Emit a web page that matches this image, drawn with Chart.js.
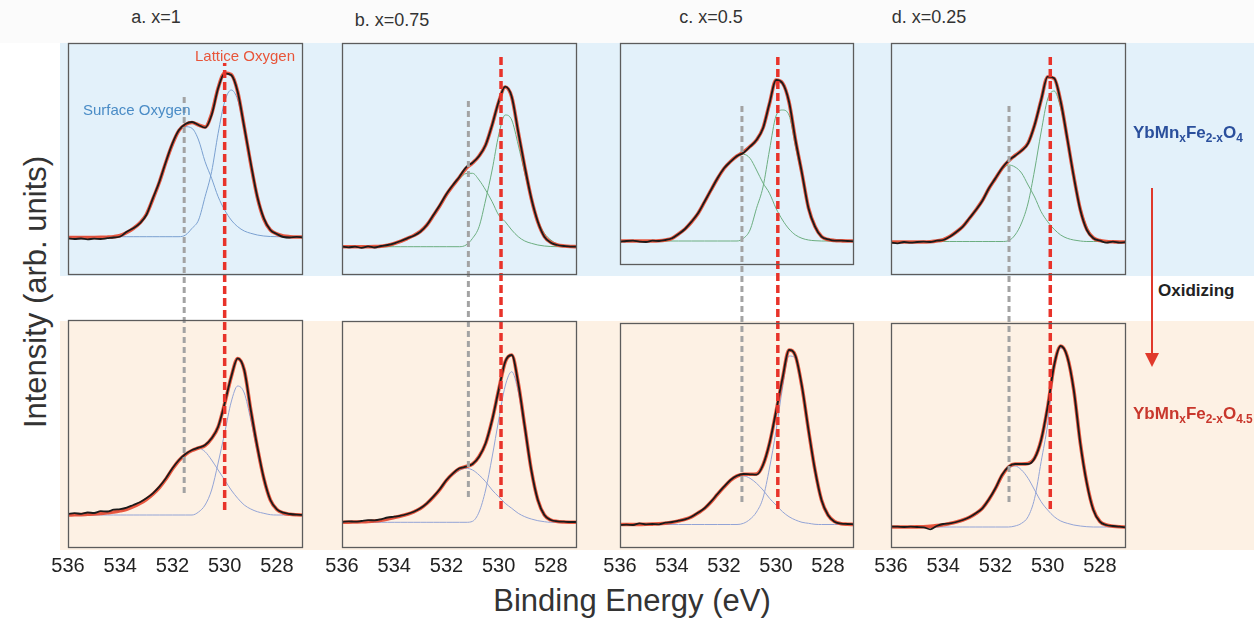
<!DOCTYPE html>
<html>
<head>
<meta charset="utf-8">
<script src="https://cdn.jsdelivr.net/npm/chart.js@4.4.1/dist/chart.umd.min.js"></script>
<style>
  body { margin: 0; width: 1254px; height: 619px; position: relative; overflow: hidden;
         background: #fff; font-family: "Liberation Sans", Arial, sans-serif; }
  .band { position: absolute; left: 60px; right: 0; }
  .txt { position: absolute; white-space: nowrap; line-height: 1; }
  canvas { position: absolute; }
  sub { font-size: 70%; vertical-align: -0.35em; line-height: 0; }
</style>
</head>
<body>
<div class="band" style="top:0;height:43px;left:0;background:#fbfbfb"></div>
<div class="band" style="top:43px;height:233px;background:#e3f1fa"></div>
<div class="band" style="top:321px;height:229px;background:#fdf1e4"></div>

<div class="txt" style="left:156px;top:17px;font-size:18px;color:#333;transform:translate(-50%,-50%)">a. x=1</div>
<div class="txt" style="left:392px;top:20px;font-size:18px;color:#333;transform:translate(-50%,-50%)">b. x=0.75</div>
<div class="txt" style="left:711px;top:17px;font-size:18px;color:#333;transform:translate(-50%,-50%)">c. x=0.5</div>
<div class="txt" style="left:929px;top:17px;font-size:18px;color:#333;transform:translate(-50%,-50%)">d. x=0.25</div>

<div class="txt" style="left:35px;top:292px;font-size:31px;color:#333;transform:translate(-50%,-50%) rotate(-90deg)">Intensity (arb. units)</div>
<div class="txt" style="left:632px;top:600px;font-size:31px;color:#333;transform:translate(-50%,-50%)">Binding Energy (eV)</div>

<div id="charts"></div>

<div class="txt" style="left:83px;top:109px;font-size:15px;color:#4a8cc6;transform:translateY(-50%)">Surface Oxygen</div>
<div class="txt" style="left:195px;top:55px;font-size:15px;color:#e8553a;transform:translateY(-50%)">Lattice Oxygen</div>

<div class="txt" style="left:1133px;top:132px;font-size:17px;font-weight:bold;color:#2a4f9c;transform:translateY(-50%)">YbMn<sub>x</sub>Fe<sub>2-x</sub>O<sub>4</sub></div>
<div class="txt" style="left:1158px;top:290px;font-size:17px;font-weight:bold;color:#222;transform:translateY(-50%)">Oxidizing</div>
<div class="txt" style="left:1133px;top:413px;font-size:17px;font-weight:bold;color:#c8372c;transform:translateY(-50%)">YbMn<sub>x</sub>Fe<sub>2-x</sub>O<sub>4.5</sub></div>
<svg style="position:absolute;left:1140px;top:185px" width="24" height="186">
  <line x1="12" y1="3" x2="12" y2="170" stroke="#e0392b" stroke-width="2"/>
  <polygon points="5,168 19,168 12,182" fill="#e0392b"/>
</svg>

<script>
// binding energy grid (eV), left to right on the plot
const ENERGY = [536, 535.75, 535.5, 535.25, 535, 534.75, 534.5, 534.25, 534, 533.75, 533.5, 533.25,
  533, 532.75, 532.5, 532.25, 532, 531.75, 531.5, 531.25, 531, 530.75, 530.5, 530.25,
  530, 529.75, 529.5, 529.25, 529, 528.75, 528.5, 528.25, 528, 527.75, 527.5, 527.25, 527];
const X_TICKS = [536, 534, 532, 530, 528];

// top row: YbMnxFe2-xO4
const dataTopA = [36.7, 36, 36.5, 35.7, 36.3, 36, 36.8, 37.5, 38.5, 43.3, 46.7, 51.7, 60, 76.7, 93.3, 113.3, 131.7, 145, 151, 153, 150, 147.3, 160, 186.7, 201.7, 200, 183, 148, 111.7, 78.3, 56.7, 45, 41, 38, 37.5, 38.2, 37.6];
const fitTopA = [37.5, 37.5, 37.5, 37.5, 37.5, 37.6, 37.8, 38.3, 39.5, 42.5, 46.5, 52, 60.5, 76, 93, 113, 131, 144.5, 150.5, 152.5, 150, 148, 161, 187, 202, 200.5, 183, 148, 111, 78, 56, 45, 41, 39, 38.3, 38, 38];
const surfTopA = [38.3, 38.3, 38.3, 38.3, 38.3, 38.3, 38.3, 38.3, 38.3, 42, 46, 51, 59.5, 75.5, 92.5, 112.5, 130.5, 143.5, 148.3, 146.7, 135, 113.3, 96.7, 78.3, 65, 55, 48.3, 44, 41.7, 40, 39, 38.5, 38.3, 38.3, 38.3, 38.3, 38.3];
const lattTopA = [38.3, 38.3, 38.3, 38.3, 38.3, 38.3, 38.3, 38.3, 38.3, 38.3, 38.3, 38.3, 38.3, 38.3, 38.3, 38.3, 38.3, 38.3, 40, 46.7, 55, 78.3, 103.3, 141.7, 173.3, 185, 175, 145, 111.7, 80, 58.3, 46.7, 41.7, 39.3, 38.5, 38.3, 38.3];

const dataTopB = [28.3, 27.7, 28.3, 27.2, 28.6, 27.5, 29, 30, 31.7, 34, 36.7, 39.3, 43.3, 50, 60, 70, 81, 90, 98.3, 107.7, 112.3, 119, 130, 150, 173.3, 188.3, 178.3, 143, 108.3, 76.7, 53.3, 38.3, 32.3, 30, 29, 28.3, 28.3];
const fitTopB = [28.3, 28.3, 28.3, 28.3, 28.3, 28.4, 28.8, 29.8, 31.5, 33.8, 36.5, 39.5, 43.5, 50, 59.5, 69.5, 80.5, 89.5, 98, 106.5, 112, 119, 130, 150, 173, 188, 178, 143, 108, 76.5, 53, 38.5, 32.5, 30, 29, 28.5, 28.3];
const surfTopB = [28.3, 28.3, 28.3, 28.3, 28.3, 28.3, 28.3, 28.3, 30.5, 33.5, 36, 39, 43, 49.5, 59, 69, 80, 88.5, 96, 101.5, 101.7, 95, 85, 73.3, 60, 53.3, 45, 38.3, 34, 31.7, 30, 29, 28.5, 28.3, 28.3, 28.3, 28.3];
const lattTopB = [28.3, 28.3, 28.3, 28.3, 28.3, 28.3, 28.3, 28.3, 28.3, 28.3, 28.3, 28.3, 28.3, 28.3, 28.3, 28.3, 28.3, 28.3, 28.3, 30, 36.7, 48.3, 75, 105, 140, 160, 155, 130, 101.7, 75, 55, 41.7, 35, 30.7, 29, 28.3, 28.3];

const dataTopC = [33.3, 34, 34.3, 33.3, 33, 34.3, 34, 35, 36.7, 41, 46, 53.3, 61.7, 73.3, 85, 96.7, 106.7, 113.3, 119, 122.3, 128.3, 135, 146.7, 171.7, 195, 191.7, 173.3, 135, 101.7, 66.7, 48.3, 38.3, 35.7, 34.3, 34.3, 34, 33.7];
const fitTopC = [34, 34, 34, 34, 34, 34, 34.2, 35, 36.7, 41, 46, 53, 61.5, 73, 85, 96.5, 106.5, 113.5, 119, 123, 128.5, 135, 147, 171.5, 195, 192, 173, 135, 101.5, 67, 48.5, 38.5, 35.5, 34.5, 34.2, 34, 34];
const surfTopC = [34, 34, 34, 34, 34, 34, 34, 34, 36.5, 41, 46, 53.3, 61.7, 73.3, 85, 96.7, 106.5, 113, 118, 120.7, 116.7, 105, 92, 81.7, 66.7, 55, 46, 40, 36.7, 35, 34.3, 34, 34, 34, 34, 34, 34];
const lattTopC = [34, 34, 34, 34, 34, 34, 34, 34, 34, 34, 34, 34, 34, 34, 34, 34, 34, 34, 34, 36.7, 45, 66.7, 88, 125, 159, 165, 160, 128, 98, 66, 48, 37.7, 35, 34, 34, 34, 34];

const dataTopD = [32.3, 31.7, 33, 32.3, 33, 33.3, 33, 34.3, 35, 38.3, 43, 48.3, 56.7, 65, 74.3, 86.7, 96.7, 106.7, 114.3, 119.3, 124.3, 131.7, 150, 175, 198.3, 196.7, 173.3, 136.7, 98.3, 65, 45, 36.7, 34.3, 32.3, 33.3, 32.3, 33];
const fitTopD = [33, 33, 33, 33, 33, 33, 33.3, 34, 35.3, 38.5, 43, 48.5, 56.5, 65, 74.5, 86.5, 96.5, 106.5, 114, 119.5, 124.5, 132, 150, 175, 198, 196.5, 173.5, 136.5, 98.5, 65.5, 45.5, 37, 34.5, 33.5, 33.2, 33, 33];
const surfTopD = [33.5, 33.5, 33.5, 33.5, 33.5, 33.5, 33.5, 33.5, 35, 38.3, 43, 48.3, 56.5, 65, 74, 86, 96, 105, 110, 108, 102, 90, 78, 63.3, 53.3, 45.7, 40, 36.7, 35, 34, 33.5, 33.5, 33.5, 33.5, 33.5, 33.5, 33.5];
const lattTopD = [33.5, 33.5, 33.5, 33.5, 33.5, 33.5, 33.5, 33.5, 33.5, 33.5, 33.5, 33.5, 33.5, 33.5, 33.5, 33.5, 33.5, 33.5, 34.3, 40, 52, 72, 105, 143, 176, 184, 166.7, 135, 98.3, 68.3, 48.3, 38.3, 35, 34, 33.5, 33.5, 33.5];

// bottom row: YbMnxFe2-xO4.5
const dataBotA = [34, 34.8, 34.2, 35.5, 35, 36.8, 36.5, 38.3, 38.8, 40.3, 43, 45.7, 49.7, 54.7, 61.3, 69.7, 79.7, 88, 94, 98, 100.3, 103, 109.7, 121.3, 144.7, 171.3, 189.7, 178, 138, 101.3, 69.7, 48, 38.7, 35.3, 34, 33.3, 33];
const fitBotA = [33, 33.2, 33.4, 33.7, 34, 34.5, 35.2, 36, 37.2, 38.8, 41.3, 44.5, 48.5, 53.8, 60.5, 69, 79, 87.5, 93.5, 97.5, 100, 102.5, 109.5, 121, 144.5, 171, 189.5, 178, 138, 101, 69.5, 48, 38.5, 35, 33.7, 33.2, 33];
const surfBotA = [33, 33, 33.2, 33.5, 34, 34.5, 35.2, 36, 37, 39, 42, 45, 49, 54, 61, 69.5, 79.5, 87.5, 93.5, 97, 99.7, 96.3, 88, 78, 68, 58, 49.7, 43, 39, 36.3, 34.7, 33.3, 33, 33, 33, 33, 33];
const lattBotA = [33, 33, 33, 33, 33, 33, 33, 33, 33, 33, 33, 33, 33, 33, 33, 33, 33, 33, 33, 33, 36, 43, 58, 85, 115, 146, 162, 155, 128, 96.3, 68, 49.7, 39, 34.7, 33.3, 33, 33];

const dataBotB = [26, 26.7, 26.3, 27, 27.8, 27.7, 28.7, 30.5, 31.3, 32.3, 34, 36.3, 39.7, 44.7, 51.3, 59, 68, 74.7, 79.7, 81.3, 84, 91.3, 104.7, 128, 158, 186.3, 193, 164.7, 121.3, 78, 48, 33, 28, 26.7, 26.3, 26, 26];
const fitBotB = [25.7, 25.8, 26, 26.2, 26.5, 27, 27.8, 29, 30.5, 32, 33.8, 36.2, 39.5, 44.5, 51, 58.7, 67.7, 74.5, 79.5, 81.5, 84, 91.5, 104.5, 128, 158, 186, 193, 165, 121.5, 78, 48, 33, 28, 26.5, 26, 25.8, 25.7];
const surfBotB = [25.7, 25.7, 25.7, 25.7, 25.7, 26.5, 27.5, 28.5, 30, 31.5, 33, 35.5, 39, 44, 50.5, 58, 66.5, 73, 77.5, 79.7, 78, 73, 66.3, 58, 51.3, 44.7, 39.7, 34.7, 31.3, 29, 27.3, 26.3, 25.7, 25.7, 25.7, 25.7, 25.7];
const lattBotB = [25.7, 25.7, 25.7, 25.7, 25.7, 25.7, 25.7, 25.7, 25.7, 25.7, 25.7, 25.7, 25.7, 25.7, 25.7, 25.7, 25.7, 25.7, 25.7, 25.7, 26.7, 36, 58, 91, 128, 162, 176.3, 156, 116, 75, 48, 34, 28.5, 27, 25.7, 25.7, 25.7];

const dataBotC = [23, 23.3, 23, 24.7, 23.7, 24, 23.7, 25.3, 26, 27.3, 28.7, 31.3, 35.3, 39.7, 46.3, 54, 61.3, 68, 72.3, 74, 73.7, 73.3, 83, 104.7, 136.3, 169.7, 198, 192, 161.3, 118, 78, 48, 33, 26.3, 24.3, 24, 23.7];
const fitBotC = [23.5, 23.5, 23.5, 23.6, 23.7, 23.9, 24.2, 24.8, 25.7, 27, 28.7, 31.2, 35, 39.5, 46, 53.7, 61, 67.7, 72, 73.8, 73.8, 74, 83, 104.5, 136, 169.5, 198, 192, 161, 118, 78, 48, 33, 26.5, 24.3, 23.8, 23.5];
const surfBotC = [23.5, 23.5, 23.5, 23.5, 23.5, 23.5, 23.5, 23.5, 25.5, 27, 28.5, 31, 35, 39.5, 46, 53.5, 60.5, 67, 71, 72, 69.7, 64.7, 58, 49.7, 43, 36.3, 31.3, 28, 25.7, 24.7, 23.7, 23.5, 23.5, 23.5, 23.5, 23.5, 23.5];
const lattBotC = [23.5, 23.5, 23.5, 23.5, 23.5, 23.5, 23.5, 23.5, 23.5, 23.5, 23.5, 23.5, 23.5, 23.5, 23.5, 23.5, 23.5, 23.5, 23.5, 24.7, 28.7, 36, 50, 80, 117, 160, 192, 189.7, 159.7, 117.3, 77.3, 47.3, 32.3, 26, 24.3, 23.5, 23.5];

const dataBotD = [21.3, 21.3, 21, 21.3, 21, 20.7, 18.7, 22, 24, 24.7, 26, 28, 30.7, 34.7, 39.7, 48.7, 59.7, 73, 81.3, 84, 84, 84, 89.7, 108, 141.3, 183, 202, 191.3, 158, 104.7, 64.7, 38, 26.3, 23, 22, 21.3, 20.7];
const fitBotD = [21, 21, 21, 21, 21.1, 21.3, 21.7, 22.4, 23.3, 24.5, 26, 28, 30.7, 34.5, 39.8, 48.5, 59.5, 72.5, 81, 84, 84, 84.5, 90, 108, 141, 183, 202, 191.5, 158, 105, 65, 38.5, 26.5, 23, 21.8, 21.2, 21];
const surfBotD = [21, 21, 21, 21, 21, 21, 21, 21, 23, 24.5, 25.7, 27.7, 30.5, 34.5, 39.5, 48, 59, 72, 79.5, 82, 78, 69.7, 58, 46.3, 38, 31.3, 27, 24.7, 23, 22, 21.3, 21, 21, 21, 21, 21, 21];
const lattBotD = [21, 21, 21, 21, 21, 21, 21, 21, 21, 21, 21, 21, 21, 21, 21, 21, 21, 21, 21, 22, 24.7, 31.3, 49.7, 86.3, 124, 179.7, 199.7, 191.3, 158, 104.7, 64.7, 38, 26.3, 23, 22, 21, 21];

// peak positions marked by the dashed guides (eV) and their vertical extent
const SURFACE_PEAK = [531.55, 531.16, 531.31, 531.48];
const LATTICE_PEAK = [530.0, 529.91, 529.93, 529.9];
const SURFACE_SPAN = [[55, 451], [51, 447], [46, 442], [46, 443]];
const LATTICE_SPAN = [[38, 485], [39, 495], [39, 495], [39, 495]];

// the two rows share one intensity axis per column, top row shifted up
const ROW_OFFSET = { top: 273, bottom: 0 };

const columns = [
  { left: 68, right: 303, top: [dataTopA, fitTopA, surfTopA, lattTopA], bottom: [dataBotA, fitBotA, surfBotA, lattBotA],
    topBox: [273, 505], botBox: [0, 228], topComp: '#7aa0d0' },
  { left: 342, right: 577, top: [dataTopB, fitTopB, surfTopB, lattTopB], bottom: [dataBotB, fitBotB, surfBotB, lattBotB],
    topBox: [273, 505], botBox: [0, 227], topComp: '#6cae80' },
  { left: 620, right: 854, top: [dataTopC, fitTopC, surfTopC, lattTopC], bottom: [dataBotC, fitBotC, surfBotC, lattBotC],
    topBox: [283, 505], botBox: [0, 225], topComp: '#6cae80' },
  { left: 891, right: 1126, top: [dataTopD, fitTopD, surfTopD, lattTopD], bottom: [dataBotD, fitBotD, surfBotD, lattBotD],
    topBox: [273, 505], botBox: [0, 225], topComp: '#6cae80' }
];

function series(values, offset, color, width) {
  return {
    data: ENERGY.map((e, k) => ({ x: e, y: values[k] + offset })),
    borderColor: color, borderWidth: width, pointRadius: 0, fill: false,
    cubicInterpolationMode: 'monotone'
  };
}

function guide(e, span, color, width, dash) {
  return {
    data: [{ x: e, y: span[0] }, { x: e, y: span[1] }],
    borderColor: color, borderWidth: width, borderDash: dash, pointRadius: 0, fill: false
  };
}

function rowSets(rows, offset, compColor) {
  const [data, fit, surf, latt] = rows;
  return [
    series(data, offset, '#1b1b1b', 1.8),
    series(fit, offset, 'rgba(232,72,45,0.9)', 3.6),
    series(surf, offset, compColor, 1),
    series(latt, offset, compColor, 1)
  ];
}

const panelFrames = {
  id: 'panelFrames',
  afterDatasetsDraw(chart, args, opts) {
    const { ctx, scales: { x, y } } = chart;
    const l = x.getPixelForValue(536), r = x.getPixelForValue(527);
    ctx.save();
    ctx.strokeStyle = '#5c5c5c';
    ctx.lineWidth = 1.3;
    opts.boxes.forEach(([lo, hi]) => {
      const t = y.getPixelForValue(hi), b = y.getPixelForValue(lo);
      ctx.strokeRect(l + 0.5, t + 0.5, r - l - 1, b - t - 1);
    });
    ctx.restore();
  }
};

const holder = document.getElementById('charts');
const PAD = 30;
columns.forEach((col, i) => {
  const canvas = document.createElement('canvas');
  const w = col.right - col.left + 2 * PAD;
  const h = 10 + 505 + 30;
  canvas.width = w; canvas.height = h;
  canvas.style.left = (col.left - PAD) + 'px';
  canvas.style.top = '33px';
  canvas.style.width = w + 'px'; canvas.style.height = h + 'px';
  holder.appendChild(canvas);

  const datasets = [
    guide(LATTICE_PEAK[i], LATTICE_SPAN[i], '#e8332a', 3.5, [8, 4]),
    guide(SURFACE_PEAK[i], SURFACE_SPAN[i], '#a3a3a3', 3, [6, 4]),
    ...rowSets(col.top, ROW_OFFSET.top, col.topComp),
    ...rowSets(col.bottom, ROW_OFFSET.bottom, '#93a4d6')
  ];

  new Chart(canvas.getContext('2d'), {
    type: 'line',
    data: { datasets },
    options: {
      responsive: false,
      animation: false,
      devicePixelRatio: 1,
      events: [],
      layout: { padding: { left: PAD, right: PAD, top: 10, bottom: 0 } },
      plugins: { legend: { display: false }, tooltip: { enabled: false },
                 panelFrames: { boxes: [col.topBox, col.botBox] } },
      scales: {
        x: {
          type: 'linear', min: 527, max: 536, reverse: true,
          afterBuildTicks: ax => { ax.ticks = X_TICKS.map(v => ({ value: v })); },
          afterFit: ax => { ax.height = 30; },
          grid: { display: false, drawTicks: false },
          border: { display: false },
          ticks: { color: '#222', padding: 6, maxRotation: 0, autoSkip: false,
                   font: { size: 20, family: '"Liberation Sans", Arial, sans-serif' } }
        },
        y: { min: 0, max: 505, display: false }
      }
    },
    plugins: [panelFrames]
  });
});
</script>
</body>
</html>
